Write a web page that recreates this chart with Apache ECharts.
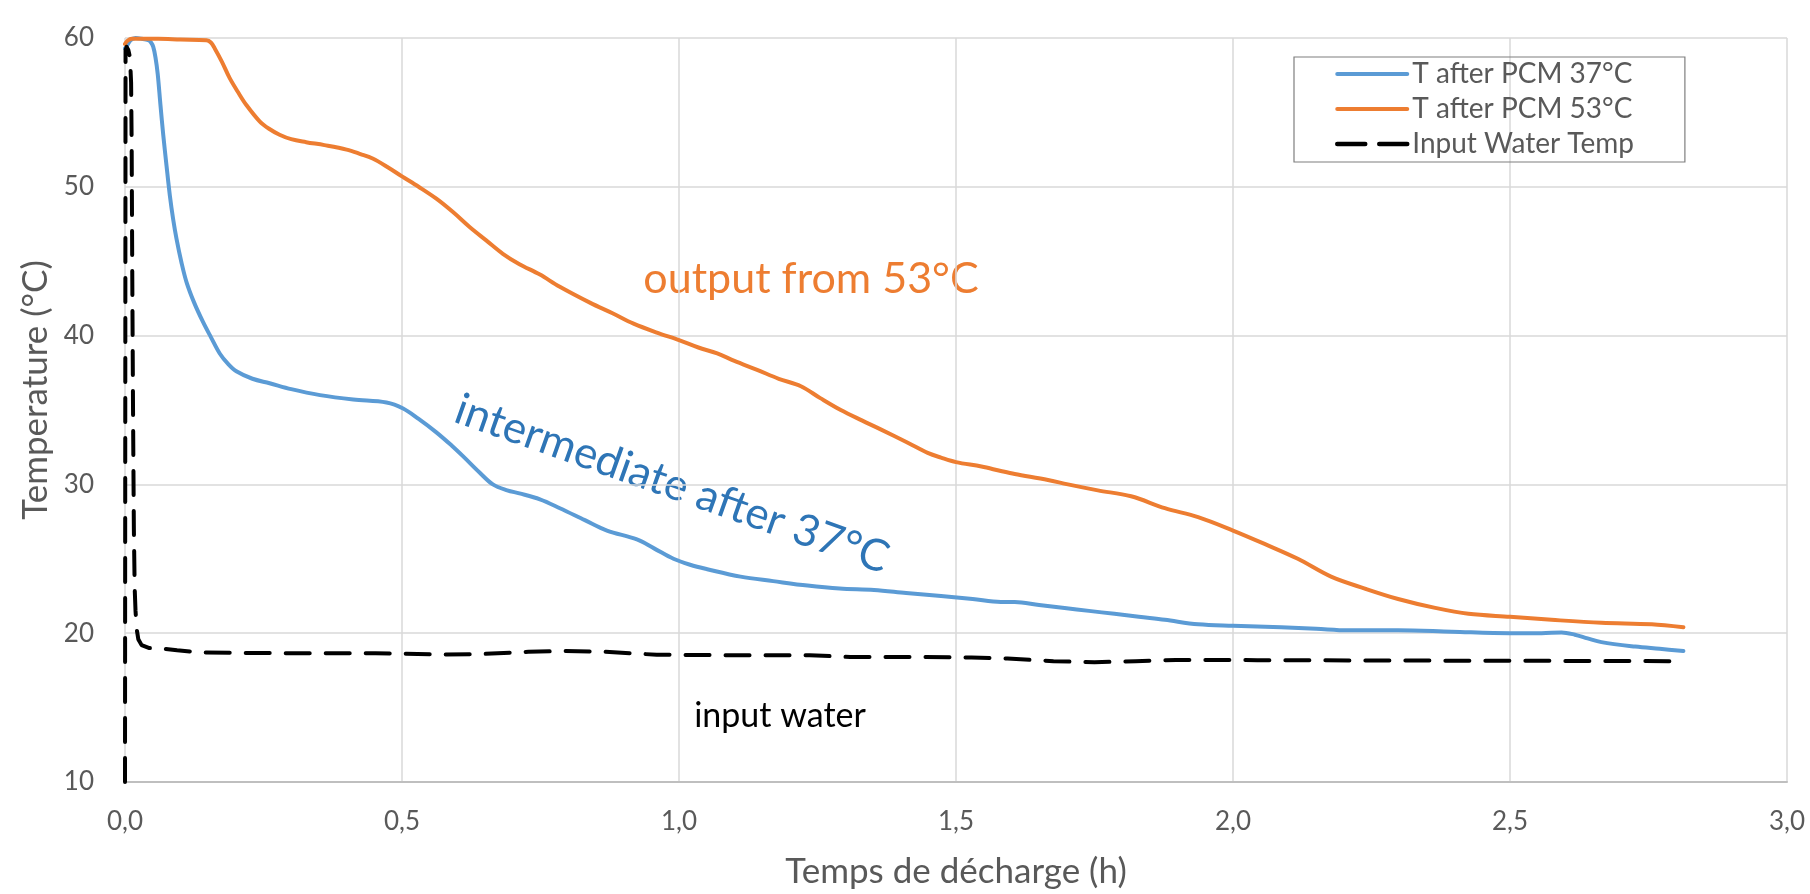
<!DOCTYPE html>
<html>
<head>
<meta charset="utf-8">
<script src="https://cdn.jsdelivr.net/npm/echarts@6/dist/echarts.min.js"></script>
<style>
html,body{margin:0;padding:0;background:#fff;}
#chart{width:1810px;height:894px;}
</style>
</head>
<body>
<div id="chart"></div>
<script>
// ---- data (time in h, temperature in °C) ----
const seriesNames = ['T after PCM 37°C', 'T after PCM 53°C', 'Input Water Temp'];
const xTicks = [0, 0.5, 1.0, 1.5, 2.0, 2.5, 3.0];
const yTicks = [10, 20, 30, 40, 50, 60];

const pcm37 = [[0,59.3],[0.004,59.5],[0.01,59.85],[0.019,60.0],[0.03,59.95],[0.042,59.85],[0.047,59.7],[0.051,59.4],[0.055,58.7],[0.059,57.6],[0.064,55.5],[0.069,53.5],[0.075,51.4],[0.081,49.4],[0.087,47.8],[0.093,46.5],[0.102,44.9],[0.111,43.6],[0.125,42.2],[0.141,40.9],[0.155,39.9],[0.171,38.8],[0.186,38.1],[0.201,37.6],[0.23,37.1],[0.261,36.8],[0.3,36.4],[0.352,36.0],[0.412,35.7],[0.472,35.5],[0.502,35.1],[0.53,34.4],[0.562,33.5],[0.59,32.6],[0.61,31.9],[0.64,30.8],[0.664,30.0],[0.69,29.6],[0.712,29.4],[0.749,29.0],[0.785,28.4],[0.83,27.6],[0.87,26.9],[0.924,26.3],[0.955,25.7],[0.99,25.0],[1.02,24.6],[1.051,24.3],[1.111,23.8],[1.17,23.5],[1.232,23.2],[1.29,23.0],[1.352,22.9],[1.41,22.7],[1.473,22.5],[1.53,22.3],[1.581,22.1],[1.606,22.1],[1.65,21.9],[1.696,21.7],[1.74,21.5],[1.786,21.3],[1.83,21.1],[1.877,20.9],[1.937,20.6],[2.0,20.5],[2.087,20.4],[2.15,20.3],[2.208,20.2],[2.298,20.2],[2.395,20.1],[2.5,20.0],[2.557,20.0],[2.593,20.05],[2.617,19.9],[2.64,19.65],[2.665,19.4],[2.726,19.1],[2.77,18.95],[2.813,18.8]];

const pcm53 = [[0,59.6],[0.004,59.8],[0.012,59.95],[0.06,59.95],[0.1,59.9],[0.147,59.85],[0.155,59.7],[0.162,59.3],[0.175,58.4],[0.189,57.3],[0.205,56.3],[0.219,55.5],[0.243,54.4],[0.26,53.9],[0.279,53.5],[0.3,53.2],[0.327,53.0],[0.36,52.8],[0.4,52.5],[0.425,52.2],[0.447,51.9],[0.475,51.3],[0.5,50.7],[0.53,50.0],[0.562,49.2],[0.592,48.3],[0.622,47.3],[0.652,46.4],[0.682,45.5],[0.712,44.8],[0.749,44.1],[0.784,43.3],[0.84,42.2],[0.88,41.5],[0.918,40.8],[0.96,40.2],[1.0,39.7],[1.035,39.2],[1.069,38.8],[1.1,38.3],[1.141,37.7],[1.18,37.1],[1.22,36.6],[1.255,35.8],[1.292,35.0],[1.33,34.3],[1.364,33.7],[1.413,32.8],[1.45,32.1],[1.473,31.8],[1.5,31.5],[1.546,31.2],[1.581,30.9],[1.606,30.7],[1.666,30.3],[1.702,30.0],[1.756,29.6],[1.816,29.2],[1.877,28.4],[1.937,27.8],[2.0,26.9],[2.057,26.0],[2.117,25.0],[2.177,23.8],[2.238,23.0],[2.298,22.3],[2.365,21.7],[2.425,21.3],[2.5,21.1],[2.575,20.9],[2.665,20.7],[2.756,20.6],[2.813,20.4]];

const inputWater = [[0,10],[0.001,59.2],[0.003,59.4],[0.006,59.2],[0.009,58.7],[0.011,57],[0.012,53],[0.013,45],[0.0145,35],[0.016,27],[0.0175,23],[0.019,21.5],[0.021,20.3],[0.024,19.6],[0.03,19.2],[0.044,19.0],[0.07,18.95],[0.094,18.85],[0.139,18.7],[0.268,18.66],[0.452,18.66],[0.571,18.57],[0.645,18.6],[0.728,18.75],[0.793,18.8],[0.867,18.75],[0.96,18.55],[1.097,18.52],[1.236,18.52],[1.309,18.4],[1.429,18.4],[1.528,18.37],[1.593,18.3],[1.676,18.12],[1.75,18.05],[1.824,18.12],[1.897,18.2],[2.044,18.19],[2.32,18.16],[2.597,18.14],[2.79,18.12]];

const annotations = [
  {text: 'output from 53°C', color: '#ED7D31'},
  {text: 'intermediate after 37°C', color: '#2E75B6'},
  {text: 'input water', color: '#000000'}
];

// ---- chart ----
const FONT = 'Lato, "Open Sans", sans-serif';
const chart = echarts.init(document.getElementById('chart'), null, {renderer: 'canvas'});

const colors = ['#5B9BD5', '#ED7D31', '#000000'];

const option = {
  animation: false,
  backgroundColor: '#ffffff',
  grid: {left: 125, right: 23, top: 38, bottom: 111.5, containLabel: false},
  xAxis: {
    type: 'value',
    min: xTicks[0], max: xTicks[xTicks.length - 1], interval: 0.5,
    name: 'Temps de décharge (h)',
    nameLocation: 'middle', nameGap: 72,
    nameTextStyle: {fontFamily: FONT, fontSize: 35, color: '#595959'},
    axisLine: {show: true, lineStyle: {color: '#BFBFBF', width: 2}},
    axisTick: {show: false},
    axisLabel: {fontFamily: FONT, fontSize: 26, color: '#595959', margin: 27,
      formatter: v => v.toFixed(1).replace('.', ',')},
    splitLine: {show: true, lineStyle: {color: '#D9D9D9', width: 1.5}}
  },
  yAxis: {
    type: 'value',
    min: yTicks[0], max: yTicks[yTicks.length - 1], interval: 10,
    name: 'Temperature (°C)',
    nameLocation: 'middle', nameGap: 70, nameRotate: 90,
    nameTextStyle: {fontFamily: FONT, fontSize: 35, color: '#595959', padding: [0, 0, 0, 40]},
    axisLine: {show: false},
    axisTick: {show: false},
    axisLabel: {fontFamily: FONT, fontSize: 26, color: '#595959', margin: 31},
    splitLine: {show: true, lineStyle: {color: '#D9D9D9', width: 1.5}}
  },
  legend: {
    orient: 'vertical',
    left: 1294, top: 57,
    padding: [3, 51, 4, 41],
    itemWidth: 70, itemHeight: 28, itemGap: 7,
    borderColor: '#7F7F7F', borderWidth: 1.2,
    backgroundColor: 'transparent',
    textStyle: {fontFamily: FONT, fontSize: 28, color: '#595959', lineHeight: 28},
    itemStyle: {opacity: 0},
    data: [
      {name: seriesNames[0], itemStyle: {opacity: 0}, lineStyle: {color: colors[0], width: 4, type: 'solid', cap: 'round'}},
      {name: seriesNames[1], itemStyle: {opacity: 0}, lineStyle: {color: colors[1], width: 4, type: 'solid', cap: 'round'}},
      {name: seriesNames[2], itemStyle: {opacity: 0}, lineStyle: {color: colors[2], width: 4.5, type: [28, 14], cap: 'round'}}
    ]
  },
  series: [
    {name: seriesNames[0], type: 'line', data: pcm37, symbol: 'none', smooth: 0.35,
      lineStyle: {color: colors[0], width: 4, cap: 'round', join: 'round'}, itemStyle: {color: colors[0]}, z: 2},
    {name: seriesNames[1], type: 'line', data: pcm53, symbol: 'none', smooth: 0.35,
      lineStyle: {color: colors[1], width: 4, cap: 'round', join: 'round'}, itemStyle: {color: colors[1]}, z: 3},
    {name: seriesNames[2], type: 'line', data: inputWater, symbol: 'none', smooth: false,
      lineStyle: {color: colors[2], width: 4, type: [24, 16], cap: 'round', join: 'round'}, itemStyle: {color: colors[2]}, z: 4}
  ],
  graphic: [
    {type: 'text', x: 811, y: 279,
      style: {text: annotations[0].text, fill: annotations[0].color, fontFamily: FONT, fontSize: 43,
        align: 'center', verticalAlign: 'middle'}},
    {type: 'text', x: 672, y: 484, rotation: -19.5 * Math.PI / 180,
      style: {text: annotations[1].text, fill: annotations[1].color, fontFamily: FONT, fontSize: 44,
        align: 'center', verticalAlign: 'middle'}},
    {type: 'text', x: 780, y: 716,
      style: {text: annotations[2].text, fill: annotations[2].color, fontFamily: FONT, fontSize: 34,
        align: 'center', verticalAlign: 'middle'}}
  ]
};
chart.setOption(option);
</script>
</body>
</html>
